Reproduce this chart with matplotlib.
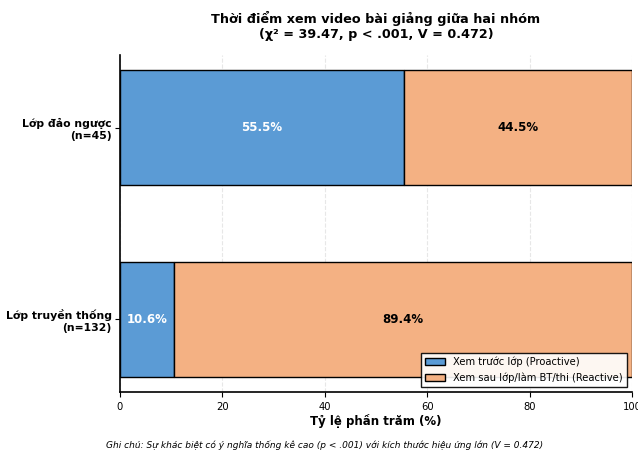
import numpy as np
import matplotlib.pyplot as plt

groups = ['Lớp đảo ngược\n(n=45)', 'Lớp truyền thống\n(n=132)']
proactive = [55.5, 10.6]
reactive = [44.5, 89.4]
legend_labels = ['Xem trước lớp (Proactive)', 'Xem sau lớp/làm BT/thi (Reactive)']

fig = plt.figure(figsize=(6.38, 4.53), dpi=100)
ax = fig.add_axes([0.188, 0.135, 0.8026, 0.7436])

y = np.arange(len(groups))
c1, c2 = '#5B9BD5', '#F4B183'
ax.barh(y, proactive, height=0.6, color=c1, edgecolor='black', linewidth=1, label=legend_labels[0])
ax.barh(y, reactive, left=proactive, height=0.6, color=c2, edgecolor='black', linewidth=1, label=legend_labels[1])

for i in range(len(groups)):
    ax.text(proactive[i] / 2, y[i], f'{proactive[i]}%', ha='center', va='center',
            color='white', fontweight='bold', fontsize=8.5)
    ax.text(proactive[i] + reactive[i] / 2, y[i], f'{reactive[i]}%', ha='center', va='center',
            color='black', fontweight='bold', fontsize=8.5)

ax.set_yticks(y)
ax.set_yticklabels(groups, fontweight='bold', fontsize=7.8)
ax.invert_yaxis()
ax.set_xlim(0, 100)
ax.tick_params(axis='x', labelsize=7.2)
ax.tick_params(axis='y', pad=2.5)
ax.set_xlabel('Tỷ lệ phần trăm (%)', fontweight='bold', fontsize=8.5, labelpad=2)
ax.set_title('Thời điểm xem video bài giảng giữa hai nhóm\n(χ² = 39.47, p < .001, V = 0.472)',
             fontweight='bold', fontsize=9.2, pad=12)
ax.grid(axis='x', linestyle='--', alpha=0.3)
ax.set_axisbelow(True)
ax.spines['top'].set_visible(False)
ax.spines['right'].set_visible(False)
ax.spines['left'].set_linewidth(1.2)
ax.spines['bottom'].set_linewidth(1.2)
ax.legend(loc='lower right', fontsize=7.2, framealpha=0.9, edgecolor='black', fancybox=False)

fig.text(0.508, 0.01, 'Ghi chú: Sự khác biệt có ý nghĩa thống kê cao (p < .001) với kích thước hiệu ứng lớn (V = 0.472)',
         ha='center', fontsize=6.5, style='italic')

fig.savefig('out.png', dpi=100)
